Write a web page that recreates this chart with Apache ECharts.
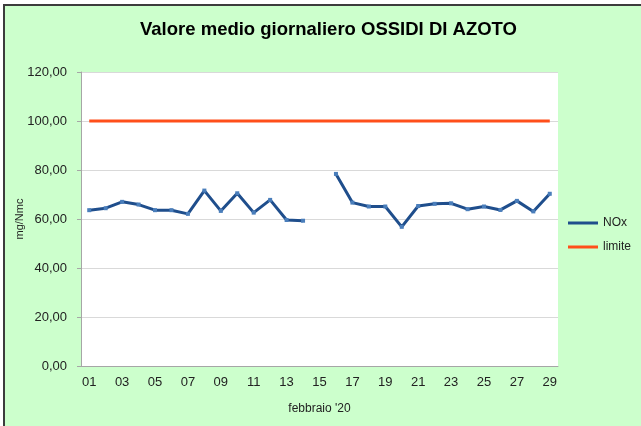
<!DOCTYPE html>
<html>
<head>
<meta charset="utf-8">
<script src="https://cdn.jsdelivr.net/npm/echarts@6/dist/echarts.min.js"></script>
<style>
  html, body { margin: 0; padding: 0; background: #fff; }
  #chart { width: 641px; height: 426px; }
</style>
</head>
<body>
<div id="chart"></div>
<script>
// giorni di febbraio 2020
const days = ["01","02","03","04","05","06","07","08","09","10","11","12","13","14","15",
              "16","17","18","19","20","21","22","23","24","25","26","27","28","29"];
// NOx media giornaliera (mg/Nmc), giorno 15 mancante
const nox = [63.6, 64.4, 67.0, 65.9, 63.6, 63.6, 62.1, 71.6, 63.3, 70.5, 62.6, 67.8, 59.6, 59.3, null,
             78.4, 66.7, 65.1, 65.1, 56.8, 65.3, 66.2, 66.4, 64.0, 65.1, 63.7, 67.4, 63.1, 70.3];
const limite = days.map(() => 100);

const chart = echarts.init(document.getElementById("chart"), null, { renderer: "canvas" });

const labelFont = "'Liberation Sans', Arial, sans-serif";
const lineIcon = "path://M0,0 L30,0 L30,3 L0,3 Z";

chart.setOption({
    animation: false,
    backgroundColor: "#fff",
    graphic: [
        {
            type: "rect",
            z: -10,
            shape: { x: 4, y: 5, width: 660, height: 440 },
            style: { fill: "#CCFFCC", stroke: "#3c3c3c", lineWidth: 2 }
        }
    ],
    title: {
        text: "Valore medio giornaliero OSSIDI DI AZOTO",
        left: 135,
        top: 15,
        textStyle: {
            fontFamily: "'Liberation Sans', Arial, sans-serif",
            fontSize: 18.5,
            fontWeight: "bold",
            color: "#000"
        }
    },
    legend: {
        orient: "vertical",
        left: 563,
        top: 212,
        itemGap: 12,
        itemWidth: 30,
        itemHeight: 3,
        textStyle: { fontFamily: labelFont, fontSize: 12, color: "#222" },
        data: [
            { name: "NOx", icon: lineIcon, itemStyle: { color: "#1F4E8C" } },
            { name: "limite", icon: lineIcon, itemStyle: { color: "#FF4F1A" } }
        ]
    },
    grid: {
        left: 81, right: 83, top: 72, bottom: 60,
        outerBoundsMode: "none",
        show: true, backgroundColor: "#fff", borderWidth: 0
    },
    xAxis: {
        type: "category",
        data: days,
        boundaryGap: true,
        name: "febbraio '20",
        nameLocation: "middle",
        nameGap: 37,
        nameMoveOverlap: false,
        nameTextStyle: { fontFamily: labelFont, fontSize: 12, color: "#222" },
        axisLine: { lineStyle: { color: "#a6a6a6", width: 1 } },
        axisTick: { show: false },
        axisLabel: { interval: 1, margin: 10, fontFamily: labelFont, fontSize: 13, color: "#222" },
        splitLine: { show: false }
    },
    yAxis: {
        type: "value",
        min: 0,
        max: 120,
        interval: 20,
        name: "mg/Nmc",
        nameLocation: "middle",
        nameGap: 56,
        nameMoveOverlap: false,
        nameRotate: 90,
        nameTextStyle: { fontFamily: labelFont, fontSize: 11, color: "#222" },
        axisLine: { show: true, lineStyle: { color: "#a6a6a6", width: 1 } },
        axisTick: { show: true, length: 4, lineStyle: { color: "#a6a6a6" } },
        axisLabel: {
            margin: 14,
            fontFamily: labelFont,
            fontSize: 13,
            color: "#222",
            formatter: v => v.toFixed(2).replace(".", ",")
        },
        splitLine: { lineStyle: { color: "#d9d9d9", width: 1 } }
    },
    series: [
        {
            name: "NOx",
            type: "line",
            data: nox,
            connectNulls: false,
            symbol: "rect",
            symbolSize: 4,
            showSymbol: true,
            lineStyle: { color: "#1F4E8C", width: 3 },
            itemStyle: { color: "#4A7EBB", borderWidth: 0 },
            z: 3
        },
        {
            name: "limite",
            type: "line",
            data: limite,
            symbol: "none",
            lineStyle: { color: "#FF4F1A", width: 3 },
            itemStyle: { color: "#FF4F1A" },
            z: 2
        }
    ]
});
</script>
</body>
</html>
